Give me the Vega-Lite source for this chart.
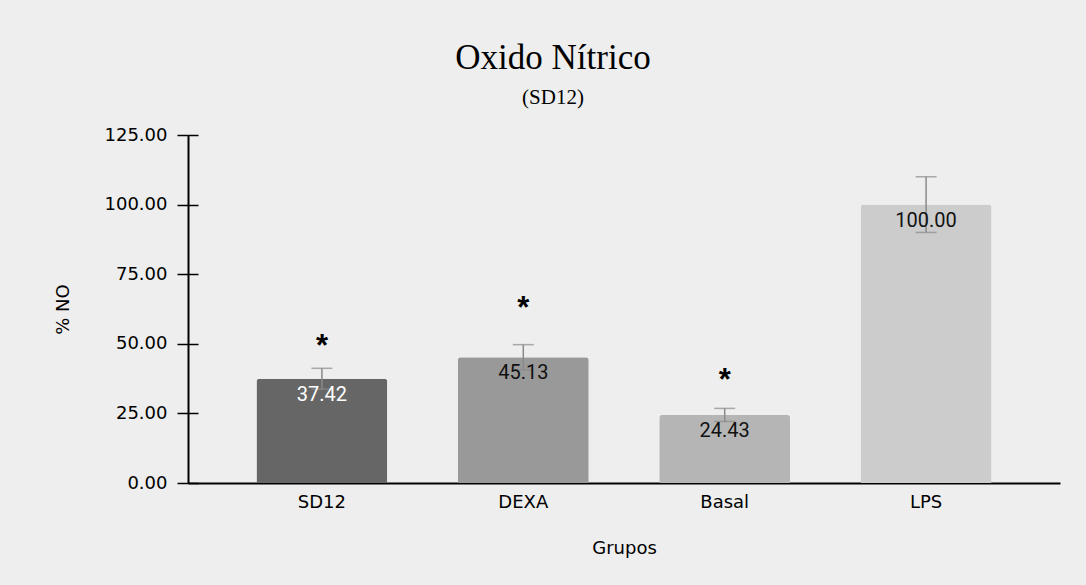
{
  "$schema": "https://vega.github.io/schema/vega-lite/v6.json",
  "autosize": "none",
  "width": 872,
  "height": 348,
  "padding": {"left": 188, "top": 135, "right": 26, "bottom": 102},
  "background": "#eeeeee",
  "title": {
    "text": "Oxido Nítrico",
    "subtitle": "(SD12)",
    "frame": "bounds",
    "anchor": "middle",
    "dx": -4,
    "font": "Liberation Serif",
    "fontSize": 35,
    "fontWeight": "normal",
    "color": "#000000",
    "subtitleFont": "Liberation Serif",
    "subtitleFontSize": 21,
    "subtitleColor": "#000000",
    "subtitlePadding": 11,
    "offset": 18
  },
  "data": {
    "values": [
      {"grupo": "SD12", "valor": 37.42, "lo": 33.7, "hi": 41.2, "ast": 50.6},
      {"grupo": "DEXA", "valor": 45.13, "lo": 40.6, "hi": 49.7, "ast": 64.3},
      {"grupo": "Basal", "valor": 24.43, "lo": 22.1, "hi": 26.8, "ast": 38.4},
      {"grupo": "LPS", "valor": 100.0, "lo": 90.0, "hi": 110.0, "ast": null}
    ]
  },
  "encoding": {
    "x": {
      "field": "grupo",
      "type": "nominal",
      "sort": ["SD12", "DEXA", "Basal", "LPS"],
      "scale": {"paddingInner": 0.35, "paddingOuter": 0.34},
      "axis": {
        "title": "Grupos",
        "labelAngle": 0,
        "labelFont": "DejaVu Sans",
        "labelFontSize": 18,
        "labelColor": "#000000",
        "labelPadding": 10,
        "ticks": false,
        "domainColor": "#000000",
        "domainWidth": 2,
        "titleFont": "DejaVu Sans",
        "titleFontSize": 18,
        "titleFontWeight": "normal",
        "titleColor": "#000000",
        "titlePadding": 28
      }
    }
  },
  "layer": [
    {
      "mark": {"type": "bar", "cornerRadiusTopLeft": 3, "cornerRadiusTopRight": 3},
      "encoding": {
        "y": {
          "field": "valor",
          "type": "quantitative",
          "scale": {"domain": [0, 125], "nice": false},
          "axis": {
            "title": "% NO",
            "orient": "left",
            "values": [0, 25, 50, 75, 100, 125],
            "format": ".2f",
            "grid": false,
            "labelFont": "DejaVu Sans",
            "labelFontSize": 18,
            "labelColor": "#000000",
            "labelPadding": 10,
            "tickSize": 11,
            "tickColor": "#000000",
            "tickWidth": 1.5,
            "domainColor": "#000000",
            "domainWidth": 2,
            "titleFont": "DejaVu Sans",
            "titleFontSize": 18,
            "titleFontWeight": "normal",
            "titleColor": "#000000",
            "titlePadding": 32
          }
        },
        "color": {
          "field": "grupo",
          "type": "nominal",
          "scale": {"domain": ["SD12", "DEXA", "Basal", "LPS"], "range": ["#666666", "#999999", "#b5b5b5", "#cccccc"]},
          "legend": null
        }
      }
    },
    {
      "mark": {"type": "rule", "color": "#8a8a8a", "strokeWidth": 1.5},
      "encoding": {
        "y": {
          "field": "lo",
          "type": "quantitative",
          "axis": {
            "orient": "left",
            "offset": -10,
            "values": [0, 25, 50, 75, 100, 125],
            "labels": false,
            "domain": false,
            "grid": false,
            "title": null,
            "tickSize": 10,
            "tickColor": "#000000",
            "tickWidth": 1.5
          }
        },
        "y2": {"field": "hi"}
      }
    },
    {
      "mark": {"type": "tick", "color": "#8a8a8a", "size": 21, "thickness": 1.5},
      "encoding": {"y": {"field": "hi", "type": "quantitative", "axis": null}}
    },
    {
      "mark": {"type": "tick", "color": "#8a8a8a", "size": 21, "thickness": 1.5},
      "encoding": {"y": {"field": "lo", "type": "quantitative", "axis": null}}
    },
    {
      "mark": {"type": "text", "font": "Roboto", "fontSize": 20, "baseline": "middle", "dy": 16},
      "encoding": {
        "y": {"field": "valor", "type": "quantitative", "axis": null},
        "text": {"field": "valor", "type": "quantitative", "format": ".2f"},
        "color": {"condition": {"test": "datum.grupo === 'SD12'", "value": "#ffffff"}, "value": "#111111"}
      }
    },
    {
      "transform": [{"filter": "datum.ast != null"}],
      "mark": {"type": "text", "font": "Liberation Sans", "fontSize": 31, "fontWeight": "bold", "baseline": "middle", "dy": 5, "color": "#000000"},
      "encoding": {
        "y": {"field": "ast", "type": "quantitative", "axis": null},
        "text": {"value": "*"}
      }
    }
  ],
  "resolve": {"axis": {"y": "independent"}},
  "config": {
    "view": {"stroke": null}
  }
}
